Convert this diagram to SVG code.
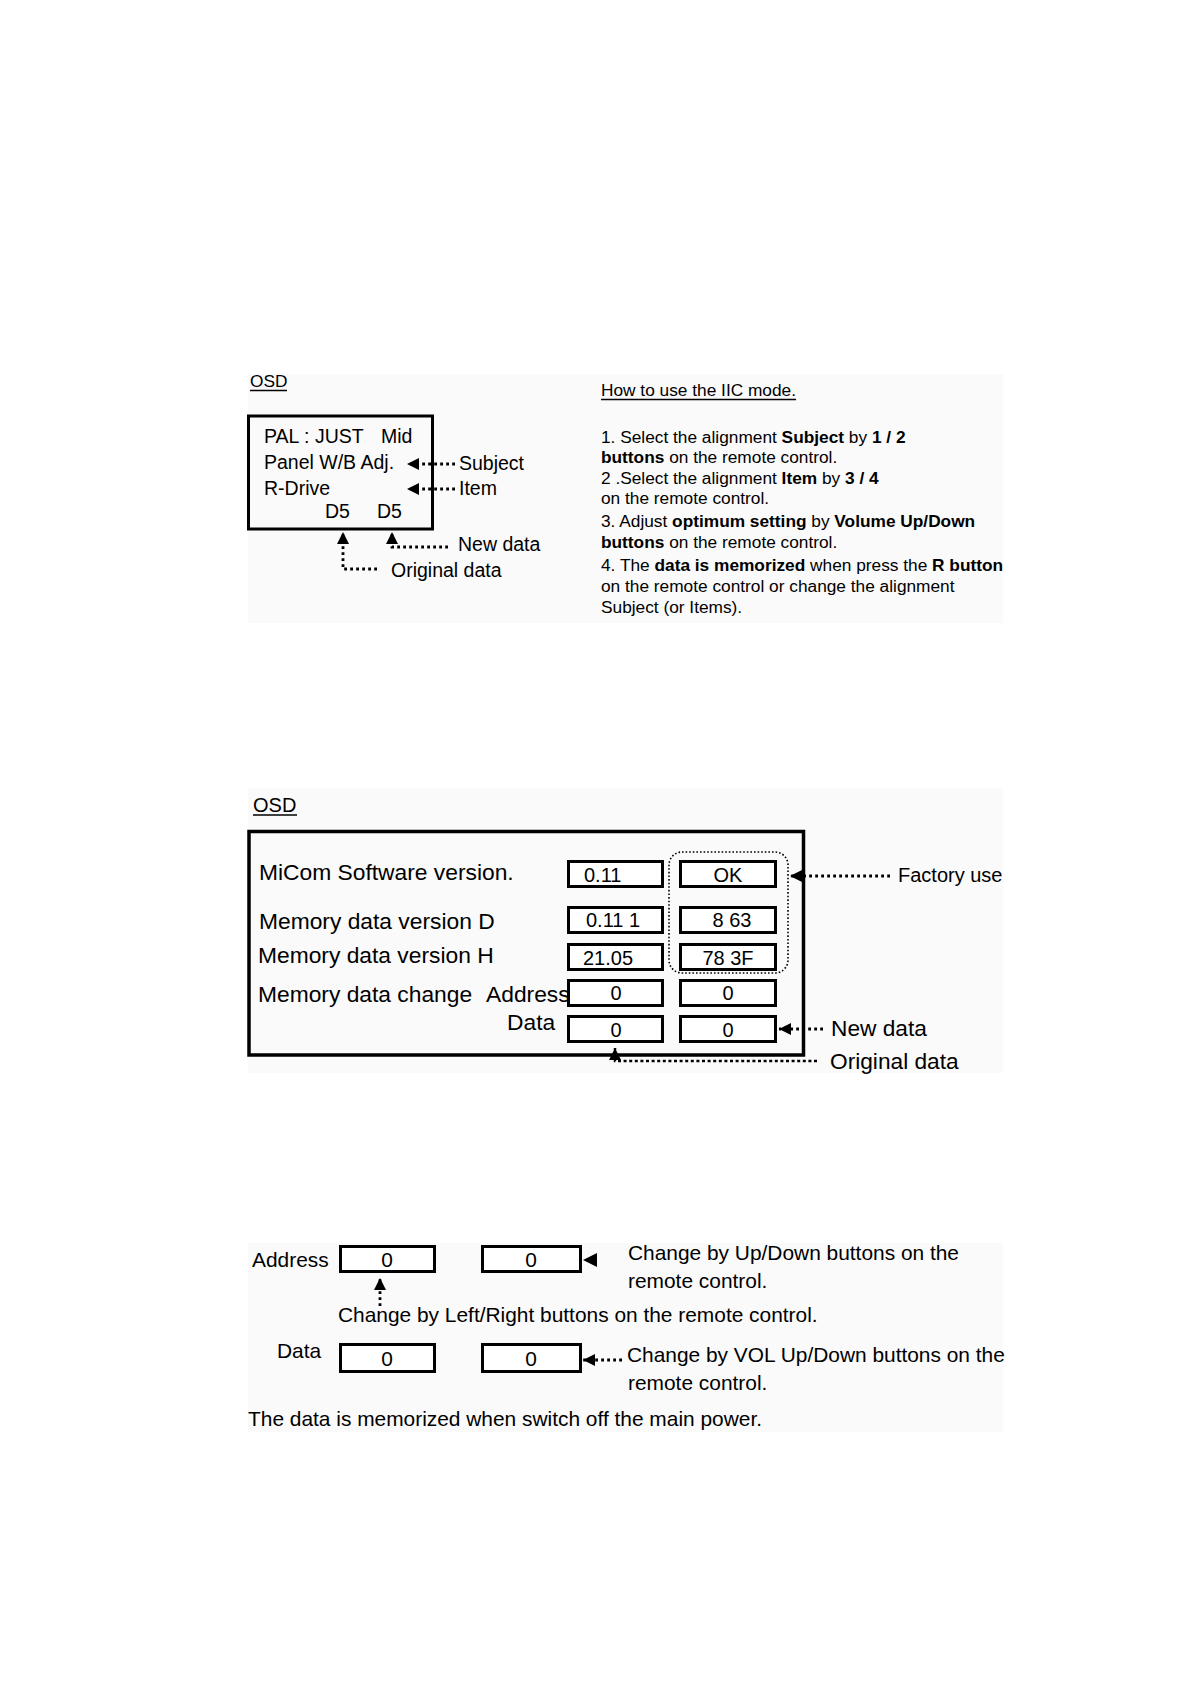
<svg xmlns="http://www.w3.org/2000/svg" width="1191" height="1685" viewBox="0 0 1191 1685">
<style>
text{font-family:"Liberation Sans",Arial,sans-serif;fill:#000}
.bg{fill:#fafafa;stroke:none}
.frame{fill:none;stroke:#000;stroke-width:3.5}
.box{fill:#fff;stroke:#000;stroke-width:3}
.dot{fill:none;stroke:#000;stroke-width:2.8;stroke-dasharray:2.8 3.2}
.dash{fill:none;stroke:#000;stroke-width:2.5;stroke-dasharray:3 2.6}
.ul{stroke:#000;stroke-width:1.5}
.t1{font-size:19.5px}
.t2{font-size:17.3px}
.t3{font-size:22.8px}
.t4{font-size:20px}
.t5{font-size:20.9px}
.t6{font-size:22.7px}
.b{font-weight:bold}
</style>
<defs>
<marker id="arr" viewBox="0 0 12 12" refX="12" refY="6" markerWidth="12" markerHeight="12" markerUnits="userSpaceOnUse" orient="auto">
<path d="M0,0 L12,6 L0,12 z" fill="#000"/>
</marker>
</defs>
<rect width="1191" height="1685" fill="#fff"/>
<rect class="bg" x="248" y="374" width="755" height="249"/>
<rect class="bg" x="248" y="788" width="755" height="285"/>
<rect class="bg" x="248" y="1243" width="755" height="189"/>

<g id="osd1">
<text class="t2" x="250" y="387">OSD</text>
<line class="ul" x1="250" y1="390.5" x2="287" y2="390.5"/>
<rect class="frame" x="248.5" y="416" width="184" height="113" style="stroke-width:3"/>
<text class="t1" x="264" y="443">PAL : JUST</text>
<text class="t1" x="381" y="443">Mid</text>
<text class="t1" x="264" y="469">Panel W/B Adj.</text>
<text class="t1" x="264" y="495">R-Drive</text>
<text class="t1" x="325" y="518">D5</text>
<text class="t1" x="377" y="518">D5</text>
</g>
<g id="osd1-labels">
<text class="t1" x="459" y="470">Subject</text>
<text class="t1" x="459" y="495">Item</text>
<text class="t1" x="458" y="551">New data</text>
<text class="t1" x="391" y="577">Original data</text>
</g>

<g id="howto">
<text class="t2" x="601" y="396">How to use the IIC mode.</text>
<line class="ul" x1="601" y1="399.5" x2="796" y2="399.5"/>
<text class="t2" x="601" y="443">1. Select the alignment <tspan class="b">Subject</tspan> by <tspan class="b">1 / 2</tspan></text>
<text class="t2" x="601" y="463"><tspan class="b">buttons</tspan> on the remote control.</text>
<text class="t2" x="601" y="484">2 .Select the alignment <tspan class="b">Item</tspan> by <tspan class="b">3 / 4</tspan></text>
<text class="t2" x="601" y="504">on the remote control.</text>
<text class="t2" x="601" y="527">3. Adjust <tspan class="b">optimum setting</tspan> by <tspan class="b">Volume Up/Down</tspan></text>
<text class="t2" x="601" y="548"><tspan class="b">buttons</tspan> on the remote control.</text>
<text class="t2" x="601" y="571">4. The <tspan class="b">data is memorized</tspan> when press the <tspan class="b">R button</tspan></text>
<text class="t2" x="601" y="592">on the remote control or change the alignment</text>
<text class="t2" x="601" y="613">Subject (or Items).</text>
</g>

<g id="osd2">
<text class="t4" x="253" y="812">OSD</text>
<line class="ul" x1="253" y1="815" x2="297" y2="815"/>
<rect class="frame" x="249" y="831.5" width="554.5" height="223.5"/>
<text class="t3" x="259" y="880">MiCom Software version.</text>
<text class="t3" x="259" y="929">Memory data version D</text>
<text class="t3" x="258" y="963">Memory data version H</text>
<text class="t3" x="258" y="1002">Memory data change</text>
<text class="t3" x="486" y="1002">Address</text>
<text class="t3" x="507" y="1030">Data</text>
</g>
<g id="values">
<rect class="box" x="568.5" y="861.5" width="94" height="25"/>
<rect class="box" x="680.5" y="861.5" width="95" height="25"/>
<rect class="box" x="568.5" y="907.5" width="94" height="25"/>
<rect class="box" x="680.5" y="907.5" width="95" height="25"/>
<rect class="box" x="568.5" y="944.5" width="94" height="25"/>
<rect class="box" x="680.5" y="944.5" width="95" height="25"/>
<rect class="box" x="568.5" y="980.5" width="94" height="25"/>
<rect class="box" x="680.5" y="980.5" width="95" height="25"/>
<rect class="box" x="568.5" y="1016.5" width="94" height="25"/>
<rect class="box" x="680.5" y="1016.5" width="95" height="25"/>
<text class="t4" x="584" y="882">0.11</text>
<text class="t4" x="728" y="882" text-anchor="middle">OK</text>
<text class="t4" x="586" y="927">0.11 1</text>
<text class="t4" x="732" y="927" text-anchor="middle">8 63</text>
<text class="t4" x="583" y="965">21.05</text>
<text class="t4" x="728" y="965" text-anchor="middle">78 3F</text>
<text class="t4" x="616" y="1000" text-anchor="middle">0</text>
<text class="t4" x="728" y="1000" text-anchor="middle">0</text>
<text class="t4" x="616" y="1037" text-anchor="middle">0</text>
<text class="t4" x="728" y="1037" text-anchor="middle">0</text>
<rect x="669" y="852" width="119" height="121" rx="13" fill="none" stroke="#000" stroke-width="1.6" stroke-dasharray="1.6 2"/>
</g>
<g id="osd2-labels">
<text style="font-size:20px" x="898" y="882">Factory use</text>
<text class="t6" x="831" y="1036">New data</text>
<text class="t6" x="830" y="1069">Original data</text>
</g>

<g id="change">
<text class="t5" x="252" y="1267">Address</text>
<rect class="box" x="340.5" y="1246.5" width="94" height="25"/>
<rect class="box" x="482.5" y="1246.5" width="98" height="25"/>
<text class="t5" x="387" y="1267" text-anchor="middle">0</text>
<text class="t5" x="531" y="1267" text-anchor="middle">0</text>
<text class="t5" x="628" y="1260">Change by Up/Down buttons on the</text>
<text class="t5" x="628" y="1288">remote control.</text>
<text class="t5" x="338" y="1322">Change by Left/Right buttons on the remote control.</text>
<text class="t5" x="277" y="1358">Data</text>
<rect class="box" x="340.5" y="1344.5" width="94" height="27"/>
<rect class="box" x="482.5" y="1344.5" width="98" height="27"/>
<text class="t5" x="387" y="1366" text-anchor="middle">0</text>
<text class="t5" x="531" y="1366" text-anchor="middle">0</text>
<text class="t5" x="627" y="1362">Change by VOL Up/Down buttons on the</text>
<text class="t5" x="628" y="1390">remote control.</text>
<text class="t5" x="248" y="1426">The data is memorized when switch off the main power.</text>
</g>

<g id="connectors">
<path class="dot" d="M455,464 L407,464" marker-end="url(#arr)"/>
<path class="dot" d="M455,489 L407,489" marker-end="url(#arr)"/>
<path class="dot" d="M448,547 L392,547 L392,532" marker-end="url(#arr)"/>
<path class="dot" d="M377,569 L343,569 L343,532" marker-end="url(#arr)"/>
<path class="dot" d="M890,876 L790,876" marker-end="url(#arr)"/>
<path class="dot" d="M823,1029 L779,1029" marker-end="url(#arr)"/>
<path class="dash" d="M817,1061 L615,1061 L615,1048" marker-end="url(#arr)"/>
<path d="M597,1253 L597,1267 L583,1260 z" fill="#000"/>
<path class="dot" d="M380,1306 L380,1278" marker-end="url(#arr)"/>
<path class="dot" d="M622,1360 L583,1360" marker-end="url(#arr)"/>
</g>
</svg>
